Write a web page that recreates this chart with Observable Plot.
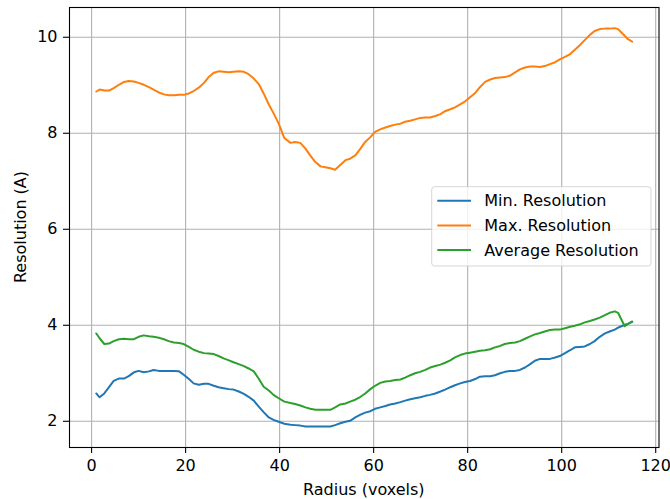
<!DOCTYPE html>
<html><head><meta charset="utf-8">
<script src="https://cdn.jsdelivr.net/npm/d3@7"></script>
<script src="https://cdn.jsdelivr.net/npm/@observablehq/plot@0.6"></script>
<style>body{margin:0;background:#fff;} svg{display:block;}</style>
</head><body><div id="chart"></div>
<script>
const radius = [1, 1.7, 2.7, 3.7, 4.7, 5.8, 6.9, 7.9, 9, 10, 11.1, 12.2, 13.2, 14.3, 15.4, 16.4, 17.5, 18.6, 19.6, 20.7, 21.7, 22.8, 23.9, 24.9, 26, 27, 28.1, 29.2, 30.2, 31.3, 32.4, 33.4, 34.5, 35.6, 36.6, 37.7, 38.7, 39.8, 41, 42.3, 43.3, 44.4, 45.5, 46.5, 47.6, 48.7, 49.7, 50.8, 51.8, 52.9, 54, 55, 56.1, 57.2, 58.2, 59.3, 60.3, 61.4, 62.5, 63.5, 64.6, 65.7, 66.7, 67.8, 68.8, 69.9, 71, 72, 73.1, 74.2, 75.2, 76.3, 77.3, 78.4, 79.4, 80.5, 81.6, 82.6, 83.7, 84.8, 85.8, 86.9, 87.9, 89, 90.1, 91.1, 92.2, 93.3, 94.3, 95.4, 96.4, 97.5, 98.6, 99.6, 100.7, 101.8, 102.8, 103.9, 104.9, 106, 107, 108.1, 109.2, 110.2, 111.3, 112, 112.7, 113.4, 114.1, 115];

const minRes = [2.58, 2.50, 2.58, 2.71, 2.84, 2.89, 2.89, 2.94, 3.02, 3.05, 3.02, 3.04, 3.07, 3.05, 3.05, 3.05, 3.05, 3.04, 2.97, 2.88, 2.79, 2.76, 2.78, 2.78, 2.74, 2.71, 2.69, 2.67, 2.66, 2.62, 2.57, 2.51, 2.43, 2.30, 2.19, 2.08, 2.03, 1.99, 1.95, 1.93, 1.92, 1.91, 1.89, 1.89, 1.89, 1.89, 1.89, 1.89, 1.92, 1.96, 1.99, 2.01, 2.08, 2.14, 2.18, 2.21, 2.26, 2.29, 2.32, 2.35, 2.37, 2.40, 2.43, 2.46, 2.48, 2.50, 2.53, 2.55, 2.58, 2.62, 2.66, 2.71, 2.75, 2.79, 2.82, 2.84, 2.88, 2.93, 2.94, 2.94, 2.96, 3.00, 3.03, 3.05, 3.05, 3.07, 3.12, 3.19, 3.26, 3.30, 3.30, 3.30, 3.33, 3.36, 3.42, 3.48, 3.54, 3.55, 3.56, 3.61, 3.67, 3.76, 3.83, 3.87, 3.91, 3.95, 3.98, 4.01, 4.03, 4.07];

const maxRes = [8.87, 8.91, 8.89, 8.89, 8.94, 9.01, 9.07, 9.09, 9.08, 9.05, 9.01, 8.96, 8.91, 8.85, 8.81, 8.79, 8.79, 8.80, 8.80, 8.83, 8.88, 8.95, 9.05, 9.17, 9.26, 9.29, 9.28, 9.27, 9.28, 9.29, 9.28, 9.23, 9.14, 9.02, 8.83, 8.60, 8.42, 8.20, 7.90, 7.80, 7.82, 7.80, 7.68, 7.54, 7.40, 7.31, 7.29, 7.27, 7.24, 7.34, 7.44, 7.47, 7.54, 7.68, 7.82, 7.92, 8.03, 8.08, 8.12, 8.15, 8.18, 8.20, 8.24, 8.26, 8.29, 8.32, 8.33, 8.33, 8.36, 8.40, 8.46, 8.50, 8.54, 8.60, 8.66, 8.75, 8.84, 8.96, 9.07, 9.12, 9.15, 9.16, 9.17, 9.20, 9.27, 9.33, 9.37, 9.39, 9.39, 9.38, 9.40, 9.44, 9.48, 9.54, 9.59, 9.65, 9.74, 9.84, 9.94, 10.05, 10.13, 10.17, 10.18, 10.18, 10.19, 10.17, 10.10, 10.03, 9.96, 9.91];

const avgRes = [3.83, 3.73, 3.61, 3.62, 3.67, 3.71, 3.72, 3.71, 3.71, 3.76, 3.79, 3.77, 3.76, 3.74, 3.71, 3.67, 3.64, 3.63, 3.61, 3.55, 3.49, 3.45, 3.42, 3.41, 3.40, 3.36, 3.31, 3.27, 3.23, 3.19, 3.15, 3.10, 3.04, 2.88, 2.72, 2.64, 2.55, 2.48, 2.41, 2.38, 2.36, 2.33, 2.29, 2.26, 2.24, 2.24, 2.24, 2.24, 2.29, 2.35, 2.37, 2.41, 2.45, 2.51, 2.58, 2.67, 2.74, 2.80, 2.83, 2.84, 2.86, 2.87, 2.91, 2.96, 3.00, 3.03, 3.07, 3.12, 3.15, 3.18, 3.22, 3.27, 3.33, 3.38, 3.41, 3.43, 3.45, 3.47, 3.48, 3.50, 3.54, 3.57, 3.61, 3.63, 3.64, 3.67, 3.72, 3.77, 3.81, 3.84, 3.87, 3.90, 3.91, 3.91, 3.94, 3.97, 3.99, 4.02, 4.06, 4.09, 4.12, 4.16, 4.21, 4.26, 4.29, 4.26, 4.12, 3.98, 4.03, 4.08];

const xTicks = [0, 20, 40, 60, 80, 100, 120];
const yTicks = [2, 4, 6, 8, 10];
const seriesNames = ["Min. Resolution", "Max. Resolution", "Average Resolution"];
const seriesColors = ["#1f77b4", "#ff7f0e", "#2ca02c"];
const seriesValues = [minRes, maxRes, avgRes];
const xLabel = "Radius (voxels)";
const yLabel = "Resolution (A)";

const FONT = "DejaVu Sans";
const FS = 16;

const rows = seriesValues.map(vals => radius.map((r, i) => ({radius: r, value: vals[i]})));

const chart = Plot.plot({
  width: 670,
  height: 499,
  marginLeft: 69,
  marginRight: 11.5,
  marginTop: 7,
  marginBottom: 52,
  style: {fontFamily: FONT, fontSize: FS + "px", color: "black", background: "white"},
  x: {domain: [-4.7, 120.7]},
  y: {domain: [1.454, 10.62]},
  marks: [
    Plot.gridX(xTicks, {stroke: "#b0b0b0", strokeOpacity: 1, strokeWidth: 1.1}),
    Plot.gridY(yTicks, {stroke: "#b0b0b0", strokeOpacity: 1, strokeWidth: 1.1}),
    ...rows.map((d, k) => Plot.line(d, {x: "radius", y: "value", stroke: seriesColors[k], strokeWidth: 2})),
    Plot.frame({stroke: "black", strokeWidth: 1.1}),
    Plot.axisX(xTicks, {tickSize: 6, tickPadding: 6, fontSize: FS, label: null, strokeWidth: 1.1}),
    Plot.axisY(yTicks, {tickSize: 6, tickPadding: 6, fontSize: FS, label: null, strokeWidth: 1.1})
  ]
});
document.getElementById("chart").appendChild(chart);

const svg = d3.select(chart);
const txt = (sel) => sel.attr("font-family", FONT).attr("font-size", FS).attr("fill", "black");

svg.append("text").call(txt)
  .attr("x", (69 + 658.5) / 2).attr("y", 489)
  .attr("text-anchor", "middle").attr("dominant-baseline", "central")
  .text(xLabel);

svg.append("text").call(txt)
  .attr("transform", `translate(20,${(7 + 447) / 2}) rotate(-90)`)
  .attr("text-anchor", "middle").attr("dominant-baseline", "central")
  .text(yLabel);

const lg = svg.append("g");
lg.append("rect")
  .attr("x", 431.7).attr("y", 186.7).attr("width", 219.3).attr("height", 79.3)
  .attr("rx", 3).attr("fill", "white").attr("fill-opacity", 0.8)
  .attr("stroke", "#cccccc").attr("stroke-opacity", 0.8).attr("stroke-width", 1);
seriesNames.forEach((name, k) => {
  const y = 200.7 + k * 24.7;
  lg.append("line").attr("x1", 437.3).attr("x2", 471).attr("y1", y).attr("y2", y)
    .attr("stroke", seriesColors[k]).attr("stroke-width", 2);
  lg.append("text").call(txt).attr("x", 484.3).attr("y", y)
    .attr("text-anchor", "start").attr("dominant-baseline", "central").text(name);
});
</script>
</body></html>
